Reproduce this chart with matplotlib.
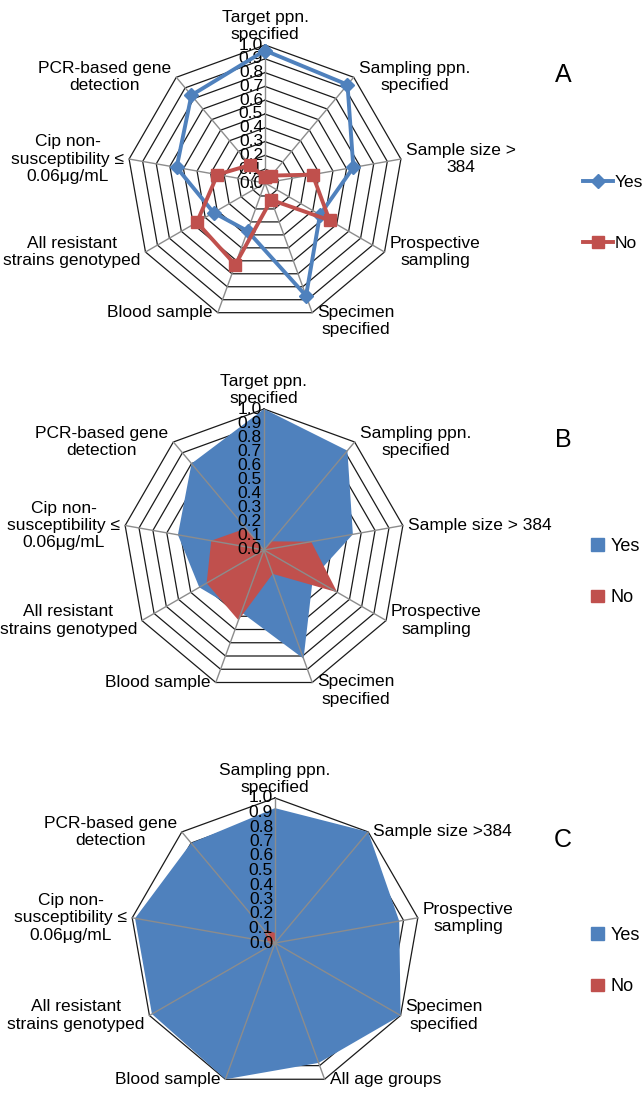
import matplotlib

matplotlib.use("Agg")
import matplotlib.pyplot as plt
import numpy as np
from matplotlib.lines import Line2D
from matplotlib.patches import Patch
from matplotlib.transforms import offset_copy

plt.rcParams["font.family"] = ["Liberation Sans", "DejaVu Sans"]

W, H = 644, 1093
BLUE = "#4F81BD"
RED = "#C0504D"

LABELS_AB = [
    "Target ppn.\nspecified",
    "Sampling ppn.\nspecified",
    "Sample size >\n384",
    "Prospective\nsampling",
    "Specimen\nspecified",
    "Blood sample",
    "All resistant\nstrains genotyped",
    "Cip non-\nsusceptibility ≤\n0.06μg/mL",
    "PCR-based gene\ndetection",
]
LABELS_B = list(LABELS_AB)
LABELS_B[2] = "Sample size > 384"
LABELS_C = [
    "Sampling ppn.\nspecified",
    "Sample size >384",
    "Prospective\nsampling",
    "Specimen\nspecified",
    "All age groups",
    "Blood sample",
    "All resistant\nstrains genotyped",
    "Cip non-\nsusceptibility ≤\n0.06μg/mL",
    "PCR-based gene\ndetection",
]

A_YES = [0.96, 0.93, 0.65, 0.46, 0.87, 0.37, 0.43, 0.65, 0.83]
A_NO = [0.04, 0.07, 0.35, 0.54, 0.13, 0.63, 0.57, 0.35, 0.17]
B_YES = [1.00, 0.92, 0.64, 0.40, 0.82, 0.47, 0.53, 0.62, 0.80]
B_NO = [0.00, 0.08, 0.34, 0.60, 0.18, 0.53, 0.47, 0.38, 0.20]
C_YES = [0.93, 1.00, 0.87, 1.00, 0.88, 1.00, 0.98, 0.98, 0.90]
C_NO = [0.07, 0.00, 0.03, 0.00, 0.02, 0.00, 0.03, 0.05, 0.12]

RINGS = [0.1, 0.2, 0.3, 0.4, 0.5, 0.6, 0.7, 0.8, 0.9, 1.0]
TICK_VALUES = [0.0, 0.1, 0.2, 0.3, 0.4, 0.5, 0.6, 0.7, 0.8, 0.9, 1.0]

fig = plt.figure(figsize=(W / 100, H / 100), dpi=100)


def radar_axes(cx, cy, r):
    ax = fig.add_axes([(cx - r) / W, (H - cy - r) / H, 2 * r / W, 2 * r / H],
                      projection="polar")
    ax.set_theta_zero_location("N")
    ax.set_theta_direction(-1)
    ax.set_ylim(0, 1)
    ax.set_xticks([])
    ax.set_yticks([])
    ax.grid(False)
    ax.spines["polar"].set_visible(False)
    ax.patch.set_visible(False)
    return ax


def draw_grid(ax, n, labels, va_over=None):
    theta = np.linspace(0, 2 * np.pi, n, endpoint=False)
    closed = np.append(theta, theta[0])
    for ring in RINGS:
        ax.plot(closed, [ring] * (n + 1), color="#1a1a1a", lw=0.9, zorder=1,
                clip_on=False)
    for t in theta:
        ax.plot([t, t], [0, 1], color="#8c8c8c", lw=1.0, zorder=4, clip_on=False)
    for val in TICK_VALUES:
        ax.text(0, val, f"{val:.1f}", ha="right", va="center", fontsize=12.5,
                zorder=6, transform=offset_copy(ax.transData, fig=fig, x=-2,
                                                units="dots"))
    for i, (t, lab) in enumerate(zip(theta, labels)):
        s, c = np.sin(t), np.cos(t)
        if abs(s) < 0.2:
            ha, dx = "center", 0
        elif s > 0:
            ha, dx = "left", 5
        else:
            ha, dx = "right", -5
        va, dy = ("bottom", 3) if c > 0.95 else ("center", 0)
        if va_over and i in va_over:
            va, dy = va_over[i]
        ax.text(t, 1.0, lab, ha=ha, va=va, fontsize=12.5, multialignment="center",
                linespacing=1.2, clip_on=False,
                transform=offset_copy(ax.transData, fig=fig, x=dx, y=dy,
                                      units="dots"))
    return theta


# Panel A: line radar
ax_a = radar_axes(265, 183, 138)
th = draw_grid(ax_a, 9, LABELS_AB, va_over={4: ("top", 8)})
cl = np.append(th, th[0])
ax_a.plot(cl, A_YES + A_YES[:1], color=BLUE, lw=2.8, marker="D", ms=7,
          zorder=7, clip_on=False)
ax_a.plot(cl, A_NO + A_NO[:1], color=RED, lw=2.8, marker="s", ms=9,
          zorder=8, clip_on=False)

# Panel B: filled radar
ax_b = radar_axes(264, 550, 141)
th = draw_grid(ax_b, 9, LABELS_B, va_over={4: ("top", 8)})
cl = np.append(th, th[0])
ax_b.fill(cl, B_YES + B_YES[:1], color=BLUE, zorder=2, lw=0)
ax_b.fill(cl, B_NO + B_NO[:1], color=RED, zorder=3, lw=0)

# Panel C: filled radar
ax_c = radar_axes(275, 943, 145)
th = draw_grid(ax_c, 9, LABELS_C)
cl = np.append(th, th[0])
ax_c.fill(cl, C_YES + C_YES[:1], color=BLUE, zorder=2, lw=0)
ax_c.fill(cl, C_NO + C_NO[:1], color=RED, zorder=3, lw=0)

# Panel letters
for letter, y in [("A", 75), ("B", 440), ("C", 840)]:
    fig.text(563 / W, 1 - y / H, letter, fontsize=18, ha="center", va="center")

# Legends
line_handles = [
    Line2D([], [], color=BLUE, lw=2.8, marker="D", ms=7),
    Line2D([], [], color=RED, lw=2.8, marker="s", ms=9),
]
fig.legend(line_handles, ["Yes", "No"], loc="center right",
           bbox_to_anchor=(643 / W, 1 - 213 / H), frameon=False, fontsize=12.5,
           handlelength=1.7, handletextpad=0.1, labelspacing=2.6, borderpad=0,
           borderaxespad=0)

for y_mid in (572, 961):
    patch_handles = [Patch(color=BLUE), Patch(color=RED)]
    fig.legend(patch_handles, ["Yes", "No"], loc="center left",
               bbox_to_anchor=(582 / W, 1 - y_mid / H), frameon=False,
               fontsize=13, handlelength=0.7, handleheight=0.7,
               handletextpad=0.4, labelspacing=1.9, borderpad=0)

fig.savefig("out.png", dpi=100)
